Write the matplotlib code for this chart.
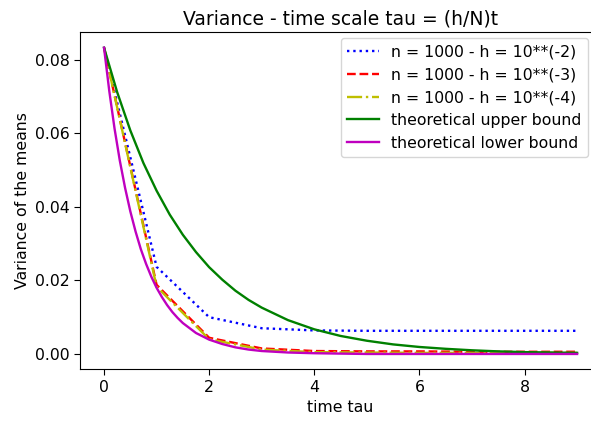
import matplotlib
matplotlib.use("Agg")
import matplotlib.pyplot as plt

# simulated variances, sampled at integer tau
tau = [0, 1, 2, 3, 4, 5, 6, 7, 8, 9]
var_h2 = [0.0833, 0.0237, 0.0100, 0.0070, 0.0064, 0.0063, 0.0063, 0.0063, 0.0063, 0.0063]
var_h3 = [0.0833, 0.0188, 0.0044, 0.0015, 0.0008, 0.0007, 0.0007, 0.0006, 0.0006, 0.0006]
var_h4 = [0.0833, 0.0183, 0.0040, 0.0012, 0.0005, 0.0004, 0.0003, 0.0003, 0.0003, 0.0003]

# theoretical bounds
tau_up = [0, 0.25, 0.5, 0.75, 1, 1.25, 1.5, 1.75, 2, 2.25, 2.5, 2.75, 3,
          3.5, 4, 4.5, 5, 5.5, 6, 6.5, 7, 7.5, 8, 8.5, 9]
upper = [0.0833, 0.0712, 0.0608, 0.0519, 0.0444, 0.0379, 0.0324, 0.0277, 0.0236,
         0.0202, 0.0172, 0.0147, 0.0126, 0.0092, 0.0067, 0.0049, 0.0036, 0.0026,
         0.0019, 0.0014, 0.0010, 0.0007, 0.0005, 0.0004, 0.0003]

tau_low = [0, 0.1, 0.2, 0.3, 0.4, 0.5, 0.6, 0.7, 0.8, 0.9, 1.0, 1.1, 1.2, 1.3,
           1.4, 1.5, 1.75, 2, 2.25, 2.5, 2.75, 3, 3.5, 4, 4.5, 5, 6, 7, 8, 9]
lower = [0.0833, 0.0715, 0.0613, 0.0526, 0.0452, 0.0388, 0.0333, 0.0285, 0.0245,
         0.0210, 0.0180, 0.0155, 0.0133, 0.0114, 0.0098, 0.0084, 0.0057, 0.0039,
         0.0027, 0.0018, 0.0012, 0.0008, 0.0004, 0.0002, 0.0001, 0.0000, 0.0000,
         0.0000, 0.0000, 0.0000]

plt.rcParams['font.size'] = 11.3
plt.rcParams['lines.linewidth'] = 1.7
plt.rcParams['xtick.major.size'] = 4
plt.rcParams['ytick.major.size'] = 4

fig = plt.figure(figsize=(5.91, 4.23), dpi=100)
ax = fig.add_axes([0.136, 0.127, 0.8805, 0.7965])

ax.plot(tau, var_h2, 'b:', label='n = 1000 - h = 10**(-2)')
ax.plot(tau, var_h3, 'r--', label='n = 1000 - h = 10**(-3)')
ax.plot(tau, var_h4, 'y-.', label='n = 1000 - h = 10**(-4)')
ax.plot(tau_up, upper, 'g', label='theoretical upper bound')
ax.plot(tau_low, lower, 'm', label='theoretical lower bound')

ax.set_title('Variance - time scale tau = (h/N)t', fontsize=13.5)
ax.set_xlabel('time tau')
ax.set_ylabel('Variance of the means')
ax.legend(loc='upper right', bbox_to_anchor=(0.975, 0.983), borderaxespad=0)

fig.savefig('out.png', dpi=100)
